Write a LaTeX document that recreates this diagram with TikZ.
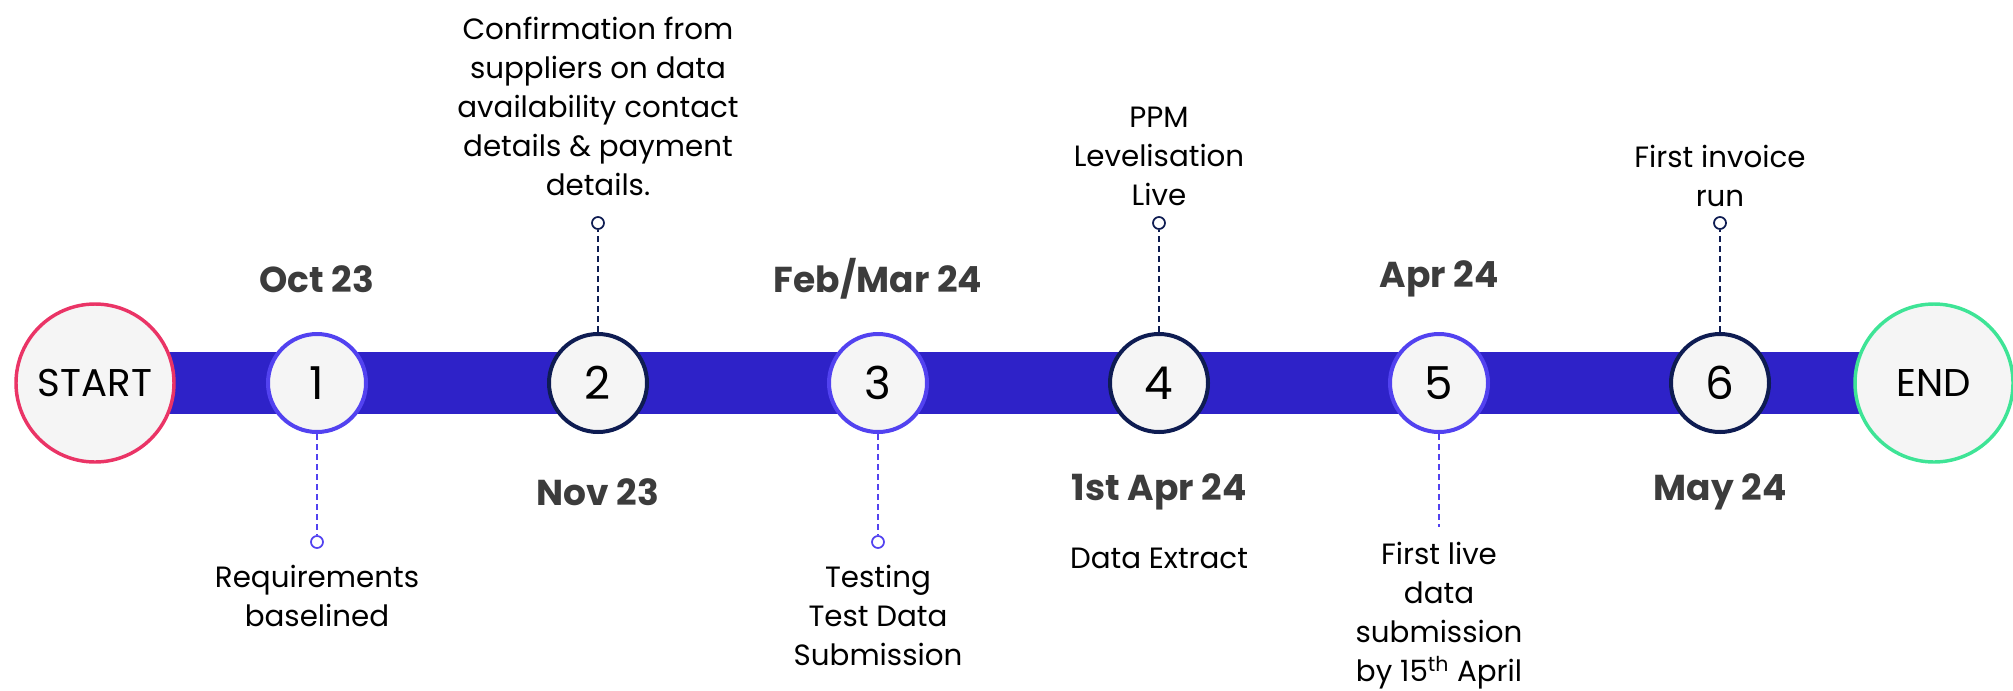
\documentclass[tikz,border=0pt]{standalone}
\usepackage{fontspec}
\setmainfont{Poppins}
\usetikzlibrary{backgrounds}

\definecolor{tlbar}{RGB}{46,34,200}
\definecolor{tlviolet}{RGB}{82,66,240}
\definecolor{tlnavy}{RGB}{14,28,82}
\definecolor{tlpink}{RGB}{234,52,102}
\definecolor{tlgreen}{RGB}{62,228,150}
\definecolor{tlfill}{RGB}{245,245,245}
\definecolor{tldate}{RGB}{60,60,60}

\tikzset{every picture/.style={line width=0.75pt}}
\tikzset{
  milestone/.style={circle, fill=tlfill, line width=3pt, minimum size=73.5pt, inner sep=0pt,
    font=\fontsize{34}{34}\selectfont},
  oddstone/.style={milestone, draw=tlviolet},
  evenstone/.style={milestone, draw=tlnavy},
  terminal/.style={circle, fill=tlfill, line width=2.6pt, minimum size=118.5pt, inner sep=0pt,
    font=\fontsize{29}{29}\selectfont},
  pin/.style={circle, fill=white, line width=1.3pt, minimum size=9pt, inner sep=0pt},
  leader/.style={line width=1.4pt, dash pattern=on 4.5pt off 3pt},
  datelabel/.style={font=\fontsize{27}{28}\selectfont\bfseries, text=tldate},
  desc/.style={align=center, font=\fontsize{22}{29.25}\selectfont}
}

\begin{document}
\begin{tikzpicture}[x=0.75pt,y=0.75pt,yscale=-1,xscale=1]
\useasboundingbox (0,0) rectangle (2013,690);

%Shape: Circle -- start and end
\draw (95,383) node [terminal, draw=tlpink] (start) {START};
\draw (1934,383) node [terminal, draw=tlgreen] (end) {END};

%Shape: Circle -- milestones
\draw (317,383) node [oddstone] (c1) {1};
\draw (598,383) node [evenstone] (c2) {2};
\draw (878,383) node [oddstone] (c3) {3};
\draw (1159,383) node [evenstone] (c4) {4};
\draw (1439,383) node [oddstone] (c5) {5};
\draw (1720,383) node [evenstone] (c6) {6};

%Shape: Rectangle -- timeline bar
\begin{scope}[on background layer]
\draw [tlbar, line width=46.5pt] (start.center) -- (end.center) ;
\end{scope}

%Shape: Circle -- pins
\draw (317,542) node [pin, draw=tlviolet] (p1) {};
\draw (598,223) node [pin, draw=tlnavy] (p2) {};
\draw (878,542) node [pin, draw=tlviolet] (p3) {};
\draw (1159,223) node [pin, draw=tlnavy] (p4) {};
\coordinate (p5) at (1439,527);
\draw (1720,223) node [pin, draw=tlnavy] (p6) {};

%Straight Lines
\draw [leader, tlviolet] (c1.south) -- (p1.north) ;
\draw [leader, tlnavy] (c2.north) -- (p2.south) ;
\draw [leader, tlviolet] (c3.south) -- (p3.north) ;
\draw [leader, tlnavy] (c4.north) -- (p4.south) ;
\draw [leader, tlviolet] (c5.south) -- (p5) ;
\draw [leader, tlnavy] (c6.north) -- (p6.south) ;

% Text Node
\draw (317,279) node [datelabel] (t1) {Oct 23};
% Text Node
\draw (598,492) node [datelabel] (t2) {Nov 23};
% Text Node
\draw (878,279) node [datelabel] (t3) {Feb/Mar 24};
% Text Node
\draw (1159,492) node [datelabel] (t4) {1st Apr 24};
% Text Node
\draw (1439,279) node [datelabel] (t5) {Apr 24};
% Text Node
\draw (1720,492) node [datelabel] (t6) {May 24};

% Text Node
\draw (317,596) node [desc] (d1) {Requirements\\baselined};
% Text Node
\draw (598,106) node [desc] (d2) {Confirmation from\\suppliers on data\\availability contact\\details \& payment\\details.};
% Text Node
\draw (878,615) node [desc] (d3) {Testing\\Test Data\\Submission};
% Text Node
\draw (1159,156) node [desc] (d4) {PPM\\Levelisation\\Live};
% Text Node
\draw (1159,558) node [desc] (d4b) {Data Extract};
% Text Node
\draw (1439,616) node [desc] (d5) {First live\\data\\submission\\by 15\textsuperscript{th} April};
% Text Node
\draw (1720,176) node [desc] (d6) {First invoice\\run};

\end{tikzpicture}
\end{document}
